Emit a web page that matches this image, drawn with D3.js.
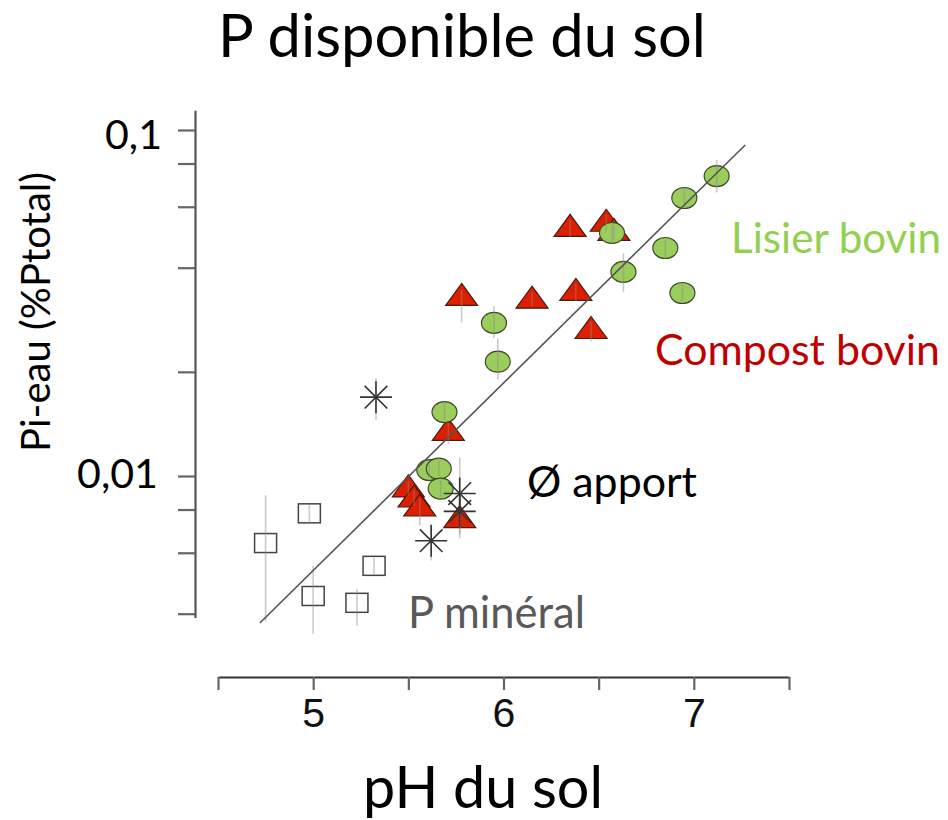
<!DOCTYPE html>
<html>
<head>
<meta charset="utf-8">
<script src="https://cdn.jsdelivr.net/npm/d3@7"></script>
<style>
  body { margin: 0; background: #fff; }
  svg { display: block; }
</style>
</head>
<body>
<svg id="chart" width="948" height="820"></svg>
<script>
// ---------- DATA ----------
const xTicks = [4.5, 5, 5.5, 6, 6.5, 7, 7.5];
const xTickLabels = ["", "5", "", "6", "", "7", ""];
const yTicks = [0.1, 0.08, 0.06, 0.04, 0.02, 0.01, 0.008, 0.006, 0.004];
const yLabelValues = [0.1, 0.01];
const yLabelTexts = ["0,1", "0,01"];

// [pH, P, errLow, errHigh]
const lisier = [
  [7.12, 0.0736, 0.066, 0.082],
  [6.95, 0.0636, 0.060, 0.068],
  [6.57, 0.0504, 0.047, 0.054],
  [6.85, 0.0456, 0.043, 0.048],
  [6.63, 0.0389, 0.034, 0.044],
  [6.94, 0.0338, 0.032, 0.036],
  [5.95, 0.0277, 0.025, 0.031],
  [5.97, 0.0214, 0.019, 0.025],
  [5.69, 0.0153, 0.0145, 0.0162],
  [5.61, 0.0104, 0.0099, 0.0109],
  [5.66, 0.0105, 0.0100, 0.0111],
  [5.67, 0.0092, 0.0087, 0.0097]
];
const compost = [
  [6.35, 0.0521, 0.049, 0.055],
  [6.54, 0.0539, 0.051, 0.057],
  [6.58, 0.0507, 0.048, 0.053],
  [5.78, 0.0329, 0.0278, 0.0345],
  [6.15, 0.0323, 0.031, 0.034],
  [6.38, 0.0340, 0.032, 0.036],
  [6.46, 0.0264, 0.0245, 0.028],
  [5.71, 0.0134, 0.0124, 0.0142],
  [5.50, 0.0092, 0.0088, 0.0097],
  [5.53, 0.0086, 0.0082, 0.0091],
  [5.56, 0.0081, 0.0072, 0.0086],
  [5.77, 0.0075, 0.0066, 0.0080]
];
const sansApport = [
  [5.33, 0.0169, 0.0145, 0.0192],
  [5.77, 0.0089, 0.0068, 0.0113],
  [5.77, 0.0079, 0.0072, 0.0086],
  [5.62, 0.0065, 0.0057, 0.0072]
];
const mineral = [
  [4.75, 0.0064, 0.0038, 0.0088],
  [4.98, 0.0078, 0.0073, 0.0083],
  [5.32, 0.0055, 0.0052, 0.0058],
  [5.00, 0.0045, 0.0035, 0.0055],
  [5.23, 0.0043, 0.0037, 0.0047]
];
// regression line end points [pH, P]
const regression = [[4.72, 0.00376], [7.27, 0.0905]];

const texts = {
  title: "P disponible du sol",
  xTitle: "pH du sol",
  yTitle: "Pi-eau (%Ptotal)",
  lisier: "Lisier bovin",
  compost: "Compost bovin",
  sans: "Ø apport",
  mineral: "P minéral"
};

// ---------- CHART ----------
const svg = d3.select("#chart");
const FONT = "Lato, 'Open Sans', sans-serif";

const x = d3.scaleLinear().domain([4.5, 7.5]).range([218, 789]);
const y = d3.scaleLog().domain([0.01, 0.1]).range([476, 130]);

const axisColor = "#555";

// Y axis
const yAxisScale = y.copy().domain([0.0039, 0.114]).range([y(0.0039), y(0.114)]);
const gy = svg.append("g").attr("transform", "translate(195,0)")
  .call(d3.axisLeft(yAxisScale).tickValues(yTicks).tickSize(17).tickSizeOuter(0).tickFormat(""));
gy.select(".domain").attr("stroke", axisColor).attr("stroke-width", 2.2);
gy.selectAll(".tick line").attr("stroke", "#666").attr("stroke-width", 2.2);

// X axis
const gx = svg.append("g").attr("transform", "translate(0,677)")
  .call(d3.axisBottom(x).tickValues(xTicks).tickSize(13).tickSizeOuter(0)
    .tickFormat((d, i) => xTickLabels[i]));
gx.select(".domain").attr("stroke", "#333").attr("stroke-width", 2.2);
gx.selectAll(".tick line").attr("stroke", "#666").attr("stroke-width", 2.2);
gx.selectAll(".tick text")
  .attr("font-family", "'Liberation Sans', Arial, sans-serif")
  .attr("font-size", 41).attr("fill", "#111")
  .attr("y", 0).attr("dy", 0)
  .attr("transform", "translate(0,50)");

// helper: fit text to a given width
function fitText(sel, targetW, base) {
  sel.attr("font-size", base);
  const w = sel.node().getComputedTextLength();
  sel.attr("font-size", base * targetW / w);
  return sel;
}

// Y tick labels
yLabelValues.forEach((v, i) => {
  const t = svg.append("text").text(yLabelTexts[i])
    .attr("x", i === 0 ? 162 : 158).attr("y", y(v) + (i === 0 ? 19 : 12))
    .attr("text-anchor", "end").attr("font-family", FONT).attr("fill", "#000");
  fitText(t, i === 0 ? 57 : 81, 40);
});

// error bars function
function errBars(data) {
  svg.append("g").selectAll("line").data(data).join("line")
    .attr("x1", d => x(d[0])).attr("x2", d => x(d[0]))
    .attr("y1", d => y(d[2])).attr("y2", d => y(d[3]))
    .attr("stroke", "rgba(140,140,140,0.45)").attr("stroke-width", 1.6);
}

// triangles
const triH = 22, triW = 32;
svg.append("g").selectAll("path").data(compost).join("path")
  .attr("d", d => {
    const cx = x(d[0]), cy = y(d[1]);
    return `M${cx},${cy - triH * 0.62} L${cx + triW / 2},${cy + triH * 0.38} L${cx - triW / 2},${cy + triH * 0.38} Z`;
  })
  .attr("fill", "#DD1E00").attr("stroke", "#4a1a12").attr("stroke-width", 1.2);

// circles
svg.append("g").selectAll("ellipse").data(lisier).join("ellipse")
  .attr("cx", d => x(d[0])).attr("cy", d => y(d[1]))
  .attr("rx", 12.5).attr("ry", 10.5)
  .attr("fill", "#9BCD5C").attr("stroke", "#3f4a2a").attr("stroke-width", 1.2);

// squares
svg.append("g").selectAll("rect").data(mineral).join("rect")
  .attr("x", d => x(d[0]) - 11).attr("y", d => y(d[1]) - 9.5)
  .attr("width", 22).attr("height", 19)
  .attr("fill", "none").attr("stroke", "#444").attr("stroke-width", 1.5);

// error bars over markers (faint)
errBars(lisier); errBars(compost); errBars(mineral); errBars(sansApport);

// stars
const starR = 16;
const starG = svg.append("g").selectAll("g").data(sansApport).join("g")
  .attr("transform", d => `translate(${x(d[0])},${y(d[1])})`);
[0, 45, 90, 135].forEach(a => {
  const r = a * Math.PI / 180;
  starG.append("line")
    .attr("x1", -starR * Math.cos(r)).attr("y1", -starR * Math.sin(r))
    .attr("x2", starR * Math.cos(r)).attr("y2", starR * Math.sin(r))
    .attr("stroke", "#333").attr("stroke-width", 1.6);
});

// regression line
svg.append("line")
  .attr("x1", x(regression[0][0])).attr("y1", y(regression[0][1]))
  .attr("x2", x(regression[1][0])).attr("y2", y(regression[1][1]))
  .attr("stroke", "#555").attr("stroke-width", 1.6);

// Titles
fitText(svg.append("text").text(texts.title)
  .attr("x", 462).attr("y", 57).attr("text-anchor", "middle")
  .attr("font-family", FONT).attr("fill", "#000"), 488, 48);

fitText(svg.append("text").text(texts.xTitle)
  .attr("x", 483).attr("y", 808).attr("text-anchor", "middle")
  .attr("font-family", FONT).attr("fill", "#000"), 240, 46);

fitText(svg.append("text").text(texts.yTitle)
  .attr("transform", "translate(50,312) rotate(-90)").attr("text-anchor", "middle")
  .attr("font-family", FONT).attr("fill", "#000"), 280, 32);

// Series labels
fitText(svg.append("text").text(texts.lisier)
  .attr("x", 731).attr("y", 253).attr("font-family", FONT).attr("fill", "#92D050"), 210, 34);
fitText(svg.append("text").text(texts.compost)
  .attr("x", 655).attr("y", 365).attr("font-family", FONT).attr("fill", "#C00000"), 285, 34);
fitText(svg.append("text").text(texts.sans)
  .attr("x", 527).attr("y", 497).attr("font-family", FONT).attr("fill", "#000"), 170, 34);
fitText(svg.append("text").text(texts.mineral)
  .attr("x", 408).attr("y", 628).attr("font-family", FONT).attr("fill", "#595959"), 177, 34);
</script>
</body>
</html>
